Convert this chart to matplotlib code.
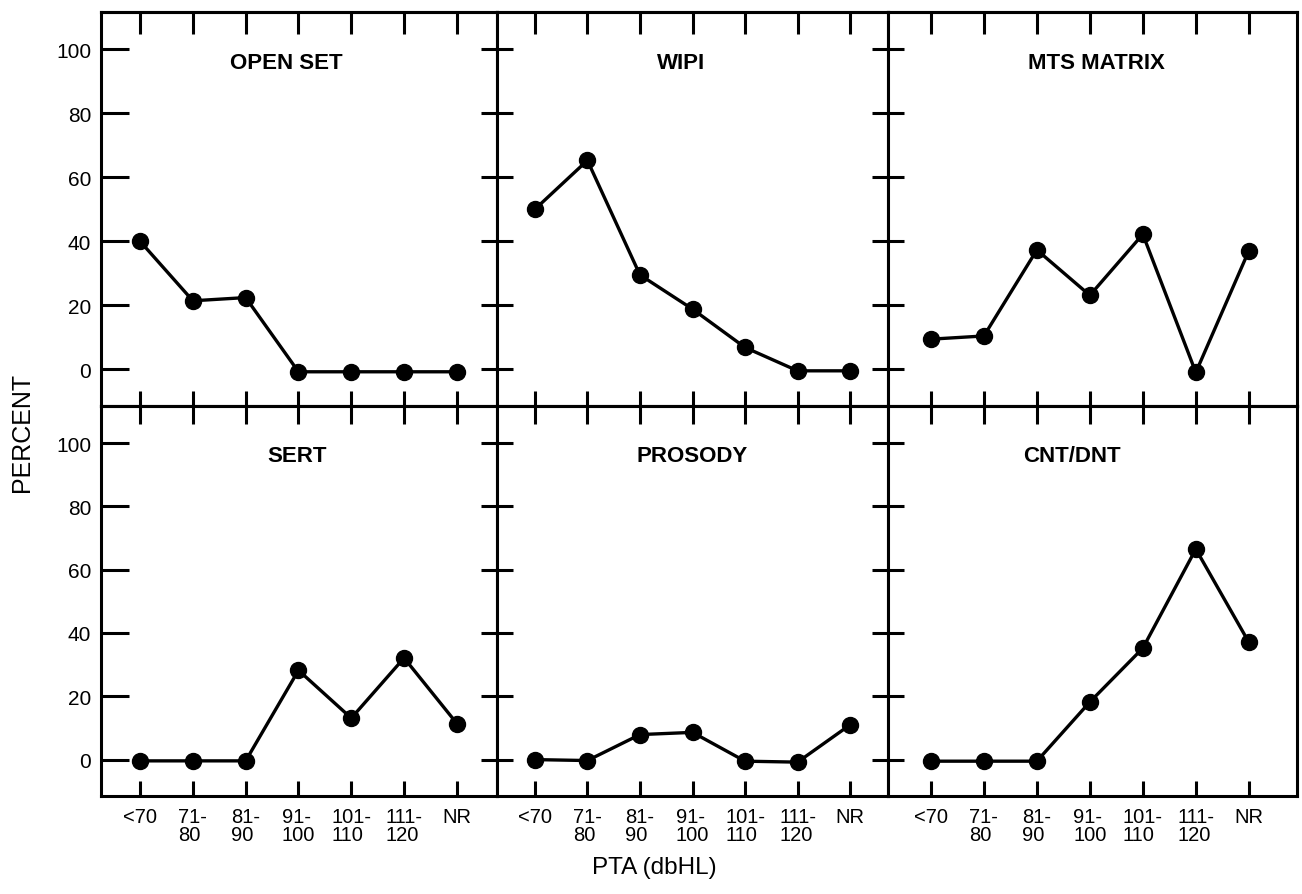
import matplotlib
matplotlib.use('Agg')
import matplotlib.pyplot as plt

# ---- data ----
categories = ['<70', '71-\n80', '81-\n90', '91-\n100', '101-\n110', '111-\n120', 'NR']
titles = ['OPEN SET', 'WIPI', 'MTS MATRIX', 'SERT', 'PROSODY', 'CNT/DNT']
open_set = [40, 21.4, 22.4, -0.8, -0.8, -0.8, -0.8]
wipi = [50, 65.3, 29.5, 18.8, 6.8, -0.5, -0.5]
mts_matrix = [9.4, 10.4, 37.3, 23.1, 42.2, -1.0, 37.0]
sert = [-0.4, -0.4, -0.4, 28.2, 13.1, 32.1, 11.4]
prosody = [0.0, -0.3, 7.9, 8.6, -0.5, -0.8, 11.0]
cnt_dnt = [-0.5, -0.5, -0.5, 18.2, 35.2, 66.5, 37.1]
y_ticks = [0, 20, 40, 60, 80, 100]
y_ticklabels = ['0', '20', '40', '60', '80', '100']
series = [open_set, wipi, mts_matrix, sert, prosody, cnt_dnt]

plt.rcParams['font.family'] = ['Liberation Sans', 'DejaVu Sans']

W, H = 1302, 895
fig = plt.figure(figsize=(W / 100, H / 100), dpi=100)

col_edges = [(101, 497), (497, 888), (888, 1297)]
row_edges = [(13, 407), (407, 797)]
col_xlim = [(-0.74, 6.76), (-0.72, 6.72), (-0.81, 6.91)]
title_x = [0.467, 0.47, 0.51, 0.495, 0.5, 0.45]

x = list(range(len(categories)))
LW = 2.2

for i, (vals, title) in enumerate(zip(series, titles)):
    r, c = divmod(i, 3)
    x0, x1 = col_edges[c]
    y0, y1 = row_edges[r]
    ax = fig.add_axes([x0 / W, 1 - y1 / H, (x1 - x0) / W, (y1 - y0) / H])
    ax.plot(x, vals, color='black', lw=2.4, marker='o', ms=11.5,
            markerfacecolor='black', markeredgecolor='black', clip_on=False, zorder=3)
    ax.set_xlim(*col_xlim[c])
    ax.set_ylim(-11.5, 111.7)
    for s in ax.spines.values():
        s.set_linewidth(LW)
    ax.set_xticks(x)
    ax.set_yticks(y_ticks)
    ax.set_yticklabels(y_ticklabels)

    # y ticks (left side only)
    if c == 0:
        ax.tick_params(axis='y', left=True, right=False, direction='in',
                       length=20, width=2.2, labelsize=15, pad=7, labelleft=True)
    else:
        ax.tick_params(axis='y', left=True, right=False, direction='inout',
                       length=23, width=2.2, labelleft=False)

    # bottom x ticks
    if r == 0:
        ax.tick_params(axis='x', bottom=True, top=False, direction='in',
                       length=11, width=2.2, labelbottom=False)
        top_len = 16
    else:
        ax.tick_params(axis='x', bottom=True, top=False, direction='in',
                       length=11, width=2.2, labelbottom=True, labelsize=14.5, pad=8)
        ax.set_xticklabels(categories)
        for lbl in ax.get_xticklabels():
            lbl.set_multialignment('left')
            lbl.set_linespacing(0.9)
        top_len = 13

    # top x ticks
    secx = ax.secondary_xaxis('top')
    secx.set_xticks(x)
    secx.tick_params(direction='in', length=top_len, width=2.2, labeltop=False)
    secx.spines['top'].set_linewidth(LW)

    ax.text(title_x[i], 0.873, title, transform=ax.transAxes, ha='center', va='center',
            fontsize=16, fontweight='bold')

fig.text(22 / W, 1 - 432 / H, 'PERCENT', rotation=90, ha='center', va='center', fontsize=18)
fig.text(654 / W, 1 - 868 / H, 'PTA (dbHL)', ha='center', va='center', fontsize=17.5)

fig.savefig('out.png', dpi=100, facecolor='white')
